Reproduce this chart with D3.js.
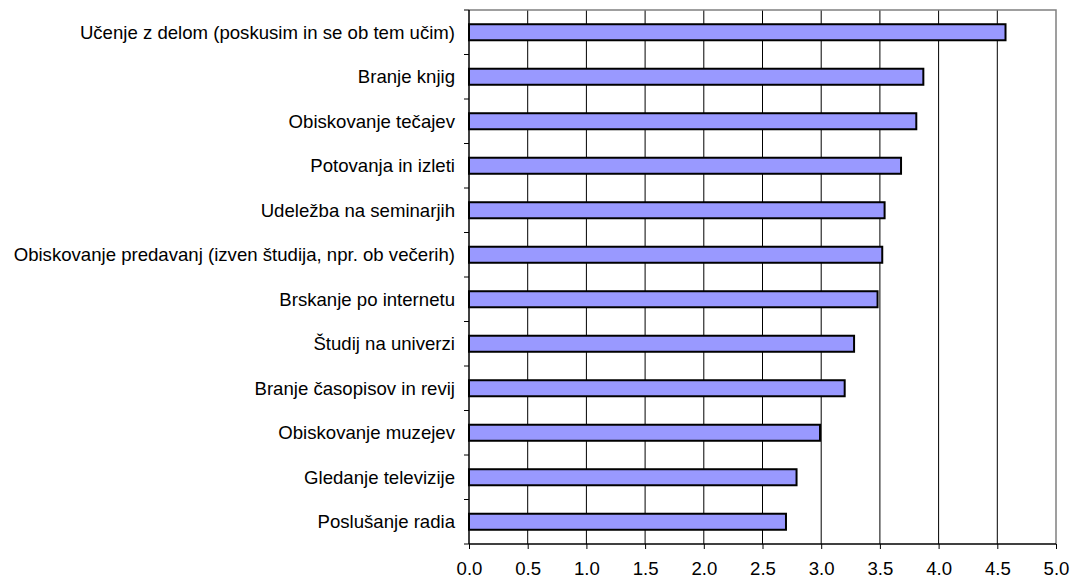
<!DOCTYPE html>
<html>
<head>
<meta charset="utf-8">
<script src="https://cdn.jsdelivr.net/npm/d3@7"></script>
<style>
  body { margin: 0; background: #fff; }
  svg { display: block; }
  text { font-family: "Liberation Sans", Arial, sans-serif; fill: #000; }
</style>
</head>
<body>
<svg id="chart" width="1070" height="578"></svg>
<script>
// categories, top to bottom
var categories = [
  "Učenje z delom (poskusim in se ob tem učim)",
  "Branje knjig",
  "Obiskovanje tečajev",
  "Potovanja in izleti",
  "Udeležba na seminarjih",
  "Obiskovanje predavanj (izven študija, npr. ob večerih)",
  "Brskanje po internetu",
  "Študij na univerzi",
  "Branje časopisov in revij",
  "Obiskovanje muzejev",
  "Gledanje televizije",
  "Poslušanje radia"
];

// mean score per category
var values = [4.57, 3.87, 3.81, 3.68, 3.54, 3.52, 3.48, 3.28, 3.20, 2.99, 2.79, 2.70];

// x axis ticks
var xTicks = [0, 0.5, 1, 1.5, 2, 2.5, 3, 3.5, 4, 4.5, 5];

var svg = d3.select("#chart");
var margin = {top: 10, right: 14, bottom: 34, left: 469};
var width = +svg.attr("width") - margin.left - margin.right,
    height = +svg.attr("height") - margin.top - margin.bottom;

var g = svg.append("g").attr("transform", "translate(" + margin.left + "," + margin.top + ")");

var x = d3.scaleLinear().domain([0, 5]).range([0, width]);
var y = d3.scaleBand().domain(categories).range([0, height])
  .paddingInner(0.64).paddingOuter(0.32);

// vertical gridlines
g.append("g")
  .selectAll("line")
  .data(xTicks.slice(1, -1))
  .enter().append("line")
  .attr("x1", (d) => { return x(d); })
  .attr("x2", (d) => { return x(d); })
  .attr("y1", 0)
  .attr("y2", height)
  .attr("stroke", "#000")
  .attr("stroke-width", 1);

// plot border top/right
g.append("path")
  .attr("d", "M0,0H" + x(5) + "V" + height)
  .attr("fill", "none")
  .attr("stroke", "#808080")
  .attr("stroke-width", 1.5);

// bars
g.append("g")
  .selectAll("rect")
  .data(values)
  .enter().append("rect")
  .attr("x", x(0))
  .attr("y", (d, i) => { return y(categories[i]); })
  .attr("width", (d) => { return x(d) - x(0); })
  .attr("height", y.bandwidth())
  .attr("fill", "#9999ff")
  .attr("stroke", "#000")
  .attr("stroke-width", 2);

// x axis
var xaxis = g.append("g")
  .attr("transform", "translate(0," + height + ")")
  .call(d3.axisBottom(x).tickValues(xTicks).tickSize(5).tickPadding(13)
    .tickFormat(d3.format(".1f")));
xaxis.select(".domain").attr("d", "M0,0H" + x(5)).attr("stroke", "#000").attr("stroke-width", 1.5);
xaxis.selectAll("line").attr("stroke", "#000");
xaxis.selectAll("text")
  .style("font-size", "18.6px")
  .attr("dy", "0.71em");

// y axis: ticks on category boundaries
var bounds = [0].concat(categories.map((c) => { return y(c) + y.bandwidth() + y.step() * y.paddingInner() / 2; }));
var yaxis = g.append("g");
yaxis.append("line")
  .attr("x1", 0).attr("x2", 0)
  .attr("y1", 0).attr("y2", height)
  .attr("stroke", "#000")
  .attr("stroke-width", 1.5);
yaxis.selectAll("line.tick")
  .data(bounds)
  .enter().append("line")
  .attr("class", "tick")
  .attr("x1", -5).attr("x2", 0)
  .attr("y1", (d) => { return d; })
  .attr("y2", (d) => { return d; })
  .attr("stroke", "#000");

// category labels
yaxis.selectAll("text")
  .data(categories)
  .enter().append("text")
  .attr("x", -14)
  .attr("y", (d) => { return y(d) + y.bandwidth() / 2; })
  .attr("dy", "0.35em")
  .attr("text-anchor", "end")
  .style("font-size", "18.6px")
  .text((d) => { return d; });
</script>
</body>
</html>
